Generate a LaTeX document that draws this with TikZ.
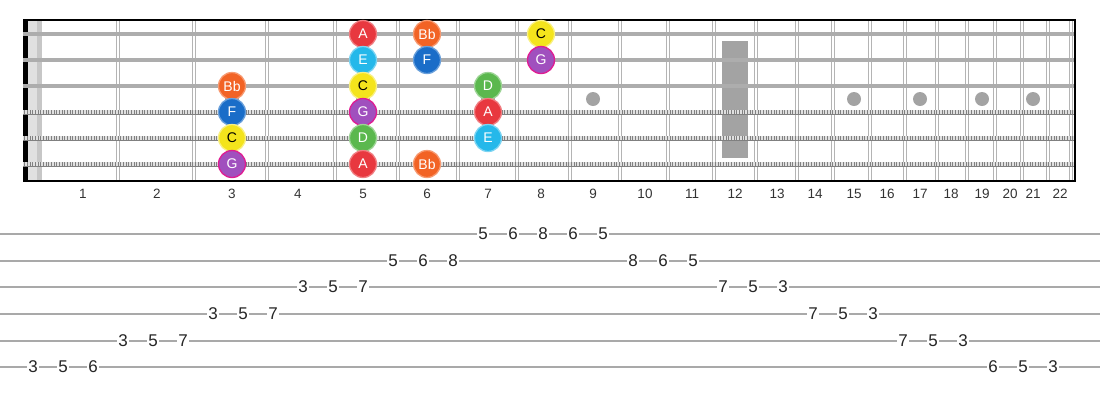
\documentclass[tikz,border=0pt]{standalone}
\usepackage{fontspec}
\setmainfont{Liberation Sans}
\usetikzlibrary{positioning}
\def\nutx{23}
\def\boardend{1075}
\def\boardtop{20}
\def\boardbot{181}
\definecolor{noteA}{HTML}{E8383F}
\definecolor{noteBb}{HTML}{F26325}
\definecolor{noteC}{HTML}{F4E41C}
\definecolor{noteD}{HTML}{5BB84E}
\definecolor{noteE}{HTML}{25B8EA}
\definecolor{noteF}{HTML}{1A6DC8}
\definecolor{noteG}{HTML}{A050BE}
\definecolor{fretgray}{HTML}{B4B4B4}
\definecolor{stringgray}{HTML}{ADADAD}
\definecolor{inlaygray}{HTML}{A3A3A3}
\definecolor{tabgray}{HTML}{A9A9A9}
\tikzstyle{note}=[circle,minimum size=27pt,inner sep=0pt,line width=1.3pt,
  text=white,font=\fontsize{14pt}{14pt}\selectfont]
\tikzstyle{nA}=[note,fill=noteA,draw=noteA!65!white]
\tikzstyle{nBb}=[note,fill=noteBb,draw=noteBb!65!white]
\tikzstyle{nC}=[note,fill=noteC,draw=noteC!55!white,text=black]
\tikzstyle{nD}=[note,fill=noteD,draw=noteD!60!white]
\tikzstyle{nE}=[note,fill=noteE,draw=noteE!60!white]
\tikzstyle{nF}=[note,fill=noteF,draw=noteF!65!white]
\tikzstyle{nG}=[note,fill=noteG,draw=magenta!80!noteG]
\tikzstyle{fretnum}=[text=black!80,font=\fontsize{13.5pt}{13.5pt}\selectfont]
\tikzstyle{tabnum}=[fill=white,inner sep=1.5pt,text=black!85,
  font=\fontsize{17pt}{17pt}\selectfont]
\tikzstyle{plain}=[line width=3.2pt,draw=stringgray]
\tikzstyle{wound}=[line width=5pt,draw=black!50]
\tikzstyle{windings}=[line width=3.2pt,draw=black!12,dash pattern=on 0.8pt off 0.8pt]
\newcommand{\newNote}[4]{\node[#3](#1) at (#4) {#2};}

\begin{document}
\begin{tikzpicture}[x=1pt,y=-1pt]
  \useasboundingbox (0,0) rectangle (1100,400);
  % strings and fret centres
  \foreach \y [count=\s] in {34,60,86,112,138,164}
    \coordinate (s\s) at (\nutx,\y);
  \foreach \x [count=\f] in {83,157,232,298,363,427,488,541,593,645,692,735,777,815,854,887,920,951,982,1010,1033,1060}{
    \coordinate (f\f) at (\x,\boardtop);
    \node[fretnum] (num\f) at (\x,194) {\f};
  }
  % board
  \fill[black!12] (28,\boardtop) rectangle (37,\boardbot);
  \fill[black!22] (37,\boardtop) rectangle (42,\boardbot);
  \foreach \x in {118,194,267,335,398,458,517,570,620,668,714,756,797,833,870,905,937,967,995,1022,1048,1071}{
    \draw[fretgray,line width=1.3pt] (\x-1.7,\boardtop) -- (\x-1.7,\boardbot);
    \draw[fretgray,line width=1.3pt] (\x+1.7,\boardtop) -- (\x+1.7,\boardbot);
  }
  \foreach \f in {3,5,7,9,15,17,19,21}
    \fill[inlaygray] (f\f |- 0,99) circle (7);
  \fill[inlaygray] (722,41) rectangle (748,158);
  \fill[black] (\nutx,\boardtop) rectangle (28,\boardbot);
  \foreach \s in {1,2,3}
    \draw[plain] (s\s) -- (\boardend,0 |- s\s);
  \foreach \s in {4,5,6}{
    \draw[wound] (s\s) -- (\boardend,0 |- s\s);
    \draw[windings] (s\s) -- (\boardend,0 |- s\s);
  }
  \draw[black,line width=1.8pt] (\nutx,\boardtop) -- (\boardend,\boardtop) -- (\boardend,\boardbot) -- (\nutx,\boardbot);
  % notes
  \newNote{A1}{A}{nA}{f5 |- s1}
  \newNote{Bb1}{Bb}{nBb}{f6 |- s1}
  \newNote{C1}{C}{nC}{f8 |- s1}
  \newNote{E2}{E}{nE}{f5 |- s2}
  \newNote{F2}{F}{nF}{f6 |- s2}
  \newNote{G2}{G}{nG}{f8 |- s2}
  \newNote{Bb3}{Bb}{nBb}{f3 |- s3}
  \newNote{C3}{C}{nC}{f5 |- s3}
  \newNote{D3}{D}{nD}{f7 |- s3}
  \newNote{F4}{F}{nF}{f3 |- s4}
  \newNote{G4}{G}{nG}{f5 |- s4}
  \newNote{A4}{A}{nA}{f7 |- s4}
  \newNote{C5}{C}{nC}{f3 |- s5}
  \newNote{D5}{D}{nD}{f5 |- s5}
  \newNote{E5}{E}{nE}{f7 |- s5}
  \newNote{G6}{G}{nG}{f3 |- s6}
  \newNote{A6}{A}{nA}{f5 |- s6}
  \newNote{Bb6}{Bb}{nBb}{f6 |- s6}
  % tab
  \foreach \y [count=\s] in {234,261,287,314,341,367}{
    \coordinate (tl\s) at (0,\y);
    \draw[tabgray,line width=2pt] (tl\s) -- (1100,\y);
  }
  \foreach \s/\f [count=\i] in {6/3,6/5,6/6,5/3,5/5,5/7,4/3,4/5,4/7,3/3,3/5,3/7,2/5,2/6,2/8,1/5,1/6,1/8,1/6,1/5,2/8,2/6,2/5,3/7,3/5,3/3,4/7,4/5,4/3,5/7,5/5,5/3,6/6,6/5,6/3}
    \node[tabnum] (t\i) at (3+30*\i,0 |- tl\s) {\f};
\end{tikzpicture}
\end{document}
